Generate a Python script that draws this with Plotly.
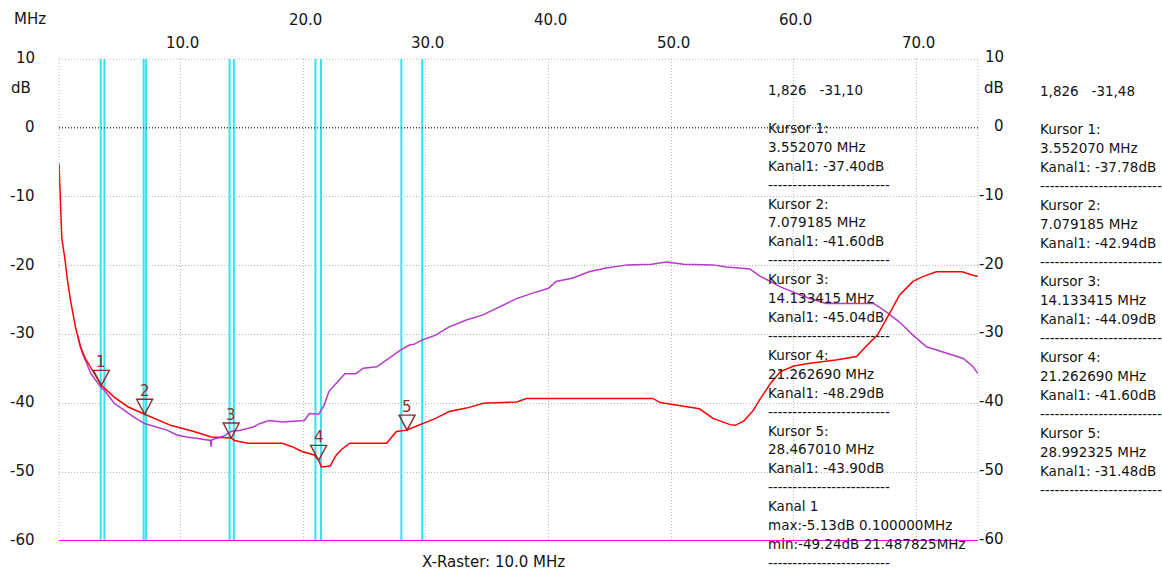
import plotly.graph_objects as go

# ---- canvas / plot-area geometry (pixels) ----
W, H = 1162, 572
ML, MR, MT, MB = 59, 184, 59, 31
PW = W - ML - MR
PH = H - MT - MB

X_RANGE = [0.1, 75.0]
Y_RANGE = [-60, 10]

# ---- Kanal 1 (red) sweep: frequency in MHz, level in dB ----
freq_k1 = [0.1, 0.13, 0.2, 0.26, 0.33, 0.45, 0.56, 0.75, 1.03, 1.44, 1.84, 2.25, 2.79,
           3.55207, 4.6, 5.7, 7.079185, 7.6, 9.2, 11.1, 12.5, 14.133415, 14.4, 15.5, 18.3,
           19.1, 19.9, 20.9, 21.26269, 21.487825, 22.2, 22.7, 23.2, 23.8, 26.8, 27.6,
           28.46701, 28.7, 29.7, 30.8, 31.9, 33.3, 34.7, 37.4, 38.2, 48.5, 49.1, 50.2,
           52.3, 53.4, 54.8, 55.2, 55.9, 56.7, 57.2, 58.1, 58.9, 60.0, 61.3, 63.4, 65.1,
           66.0, 66.8, 67.5, 68.6, 69.7, 70.5, 71.6, 73.7, 74.6, 75.0]
db_k1 = [-5.13, -7.0, -8.0, -14.0, -16.0, -17.5, -18.7, -21.6, -25.0, -28.9, -31.8, -33.5,
         -35.2, -37.40, -39.1, -40.5, -41.60, -42.0, -43.2, -44.1, -44.9, -45.04, -45.4,
         -45.8, -45.8, -46.3, -47.0, -47.5, -48.29, -49.24, -49.1, -47.5, -46.6, -45.8,
         -45.8, -44.1, -43.90, -43.7, -43.0, -42.2, -41.2, -40.7, -40.0, -39.8, -39.3,
         -39.3, -39.9, -40.2, -40.8, -42.2, -43.1, -43.2, -42.6, -41.0, -39.5, -37.1,
         -35.4, -34.6, -34.2, -33.7, -33.2, -31.5, -30.1, -27.9, -24.3, -22.3, -21.6,
         -20.9, -20.9, -21.4, -21.6]

# ---- second sweep (purple) ----
freq_k2 = [1.6, 2.0, 2.7, 3.55207, 3.8, 4.6, 5.4, 6.2, 7.079185, 7.9, 8.9, 9.7, 10.5, 11.4,
           12.45, 12.5, 12.55, 13.5, 14.133415, 14.9, 16.0, 16.4, 17.2, 18.3, 20.1, 20.5,
           21.26269, 21.7, 22.1, 22.7, 23.4, 24.3, 24.9, 26.0, 26.8, 27.9, 28.7, 28.992325,
           29.7, 30.8, 31.9, 33.3, 34.6, 36.0, 37.4, 38.7, 40.0, 40.6, 42.0, 43.3, 44.6,
           46.4, 48.4, 49.6, 51.0, 53.4, 54.5, 56.4, 57.2, 58.9, 60.8, 62.6, 64.6, 66.5,
           67.5, 68.6, 69.7, 70.8, 72.4, 73.8, 74.6, 75.0]
db_k2 = [-30.0, -32.7, -35.7, -37.78, -38.1, -40.0, -41.0, -42.0, -42.94, -43.4, -43.9,
         -44.6, -44.9, -45.1, -45.4, -46.3, -45.3, -44.8, -44.09, -43.9, -43.4, -43.0,
         -42.5, -42.7, -42.5, -41.5, -41.60, -40.3, -38.3, -37.1, -35.7, -35.7, -34.9,
         -34.7, -33.7, -32.3, -31.5, -31.48, -30.8, -30.1, -28.9, -27.9, -27.2, -26.0,
         -24.8, -24.0, -23.3, -22.3, -21.8, -20.9, -20.4, -19.9, -19.8, -19.5, -19.8,
         -19.9, -20.2, -20.5, -21.5, -23.1, -24.5, -25.5, -25.5, -25.5, -26.7, -28.2,
         -30.1, -31.8, -32.7, -33.5, -34.7, -35.7]

# ---- amateur band edges (MHz) ----
band_edges = [3.5, 3.8, 7.0, 7.2, 14.0, 14.35, 21.0, 21.45, 28.0, 29.7]

# ---- cursors ----
cursor_freq_k1 = [3.552070, 7.079185, 14.133415, 21.262690, 28.467010]
cursor_db_k1 = [-37.40, -41.60, -45.04, -48.29, -43.90]
cursor_freq_k2 = [3.552070, 7.079185, 14.133415, 21.262690, 28.992325]
cursor_db_k2 = [-37.78, -42.94, -44.09, -41.60, -31.48]

readout_k1 = "1,826\u00a0\u00a0\u00a0-31,10"
readout_k2 = "1,826\u00a0\u00a0\u00a0-31,48"

x_grid = [10, 20, 30, 40, 50, 60, 70]
x_labels_row1 = [20, 40, 60]
x_labels_row2 = [10, 30, 50, 70]
y_ticks = [10, 0, -10, -20, -30, -40, -50, -60]
x_raster = 10.0

FONT = "Tahoma, DejaVu Sans, sans-serif"
TXT = "#141414"
RED = "#ff0000"
PURPLE = "#b43cc8"
CYAN = "#2ee6f0"
MARK = "#8a2b2b"


def px_x(px):
    return (px - ML) / PW


def px_y(py):
    return (H - MB - py) / PH


def label(**kw):
    base = dict(showarrow=False, xanchor="center", yanchor="middle")
    base.update(kw)
    return base


fig = go.Figure()

# band-edge lines
for f in band_edges:
    fig.add_trace(go.Scatter(x=[f, f], y=Y_RANGE, mode="lines",
                             line=dict(color=CYAN, width=2), hoverinfo="skip"))

fig.add_trace(go.Scatter(x=freq_k2, y=db_k2, mode="lines", name="Kanal 2",
                         line=dict(color=PURPLE, width=1.5)))
fig.add_trace(go.Scatter(x=freq_k1, y=db_k1, mode="lines", name="Kanal 1",
                         line=dict(color=RED, width=1.5)))

shapes = []
# 0 dB reference line
shapes.append(dict(type="line", xref="paper", yref="y", x0=0, x1=1, y0=0, y1=0,
                   line=dict(color="#000000", width=1, dash="1px,2px")))
# dotted frame on top/left/right
for xs in (0, 1):
    shapes.append(dict(type="line", xref="paper", yref="paper", x0=xs, x1=xs, y0=0, y1=1,
                       line=dict(color="#b8b8b8", width=1, dash="1px,2px")))
shapes.append(dict(type="line", xref="paper", yref="paper", x0=0, x1=1, y0=1, y1=1,
                   line=dict(color="#b8b8b8", width=1, dash="1px,2px")))
# floor line
shapes.append(dict(type="line", xref="paper", yref="y", x0=0, x1=1, y0=-60, y1=-60,
                   line=dict(color="#ff00ff", width=2)))
# cursor triangles with apex on the Kanal 1 trace
for f, d in zip(cursor_freq_k1, cursor_db_k1):
    shapes.append(dict(type="path", xref="x", yref="y", xsizemode="pixel", ysizemode="pixel",
                       xanchor=f, yanchor=d, path="M -8,15 L 8,15 L 0,0 Z",
                       line=dict(color=MARK, width=1.4)))

ann = []
for i, (f, d) in enumerate(zip(cursor_freq_k1, cursor_db_k1)):
    ann.append(label(x=f, y=d, xref="x", yref="y", text=str(i + 1), yshift=23,
                     font=dict(family=FONT, size=15, color=MARK)))

# axis labels
for v in y_ticks:
    ann.append(label(x=0, y=v, xref="paper", yref="y", text=f"{v:d}",
                     xanchor="right", xshift=-22, yshift=1,
                     font=dict(family=FONT, size=15, color=TXT)))
    ann.append(label(x=1, y=v, xref="paper", yref="y", text=f"{v:d}",
                     xanchor="right", xshift=28, yshift=2,
                     font=dict(family=FONT, size=15, color=TXT)))
ann.append(label(x=px_x(21), y=px_y(88), xref="paper", yref="paper", text="dB",
                 font=dict(family=FONT, size=15, color=TXT)))
ann.append(label(x=px_x(994), y=px_y(88), xref="paper", yref="paper", text="dB",
                 font=dict(family=FONT, size=15, color=TXT)))
ann.append(label(x=px_x(12), y=px_y(19), xref="paper", yref="paper", text="MHz",
                 xanchor="left", font=dict(family=FONT, size=15, color=TXT)))
for v in x_labels_row1:
    ann.append(label(x=v, y=px_y(20), xref="x", yref="paper", text=f"{v:.1f}",
                     xshift=2, font=dict(family=FONT, size=15, color=TXT)))
for v in x_labels_row2:
    ann.append(label(x=v, y=px_y(43), xref="x", yref="paper", text=f"{v:.1f}",
                     xshift=2, font=dict(family=FONT, size=15, color=TXT)))
ann.append(label(x=px_x(493), y=px_y(562), xref="paper", yref="paper",
                 text=f"X-Raster: {x_raster:.1f} MHz",
                 font=dict(family=FONT, size=15, color=TXT)))

# cursor read-out panels
DASH = "-" * 25


def panel_lines(readout, freqs, dbs, extra=None):
    lines = [readout, ""]
    for i, (f, d) in enumerate(zip(freqs, dbs)):
        lines += [f"Kursor {i + 1}:", f"{f:.6f} MHz", f"Kanal1: {d:.2f}dB", DASH]
    if extra:
        lines += extra
    return lines


i_max = max(range(len(db_k1)), key=lambda i: db_k1[i])
i_min = min(range(len(db_k1)), key=lambda i: db_k1[i])
summary = ["Kanal 1",
           f"max:{db_k1[i_max]:.2f}dB {freq_k1[i_max]:.6f}MHz",
           f"min:{db_k1[i_min]:.2f}dB {freq_k1[i_min]:.6f}MHz",
           DASH]

for x0, y0, step, lines in [
        (766, 90, 18.92, panel_lines(readout_k1, cursor_freq_k1, cursor_db_k1, summary)),
        (1038, 91, 18.98, panel_lines(readout_k2, cursor_freq_k2, cursor_db_k2))]:
    for i, t in enumerate(lines):
        if not t:
            continue
        ann.append(label(x=px_x(x0), y=px_y(y0 + i * step), xref="paper", yref="paper",
                         text=t, xanchor="left",
                         font=dict(family=FONT, size=13.5, color=TXT)))

fig.update_layout(
    width=W, height=H,
    margin=dict(l=ML, r=MR, t=MT, b=MB, pad=0),
    paper_bgcolor="white", plot_bgcolor="white",
    showlegend=False,
    shapes=shapes,
    annotations=ann,
    xaxis=dict(range=X_RANGE, tickvals=x_grid, showticklabels=False, ticks="",
               showgrid=True, gridcolor="#b8b8b8", griddash="1px,2px", gridwidth=1,
               zeroline=False, showline=False, fixedrange=True),
    yaxis=dict(range=Y_RANGE, tickvals=y_ticks[1:-1], showticklabels=False, ticks="",
               showgrid=True, gridcolor="#b8b8b8", griddash="1px,2px", gridwidth=1,
               zeroline=False, showline=False, fixedrange=True),
)

fig.write_html("out.html", config={"displayModeBar": False})
